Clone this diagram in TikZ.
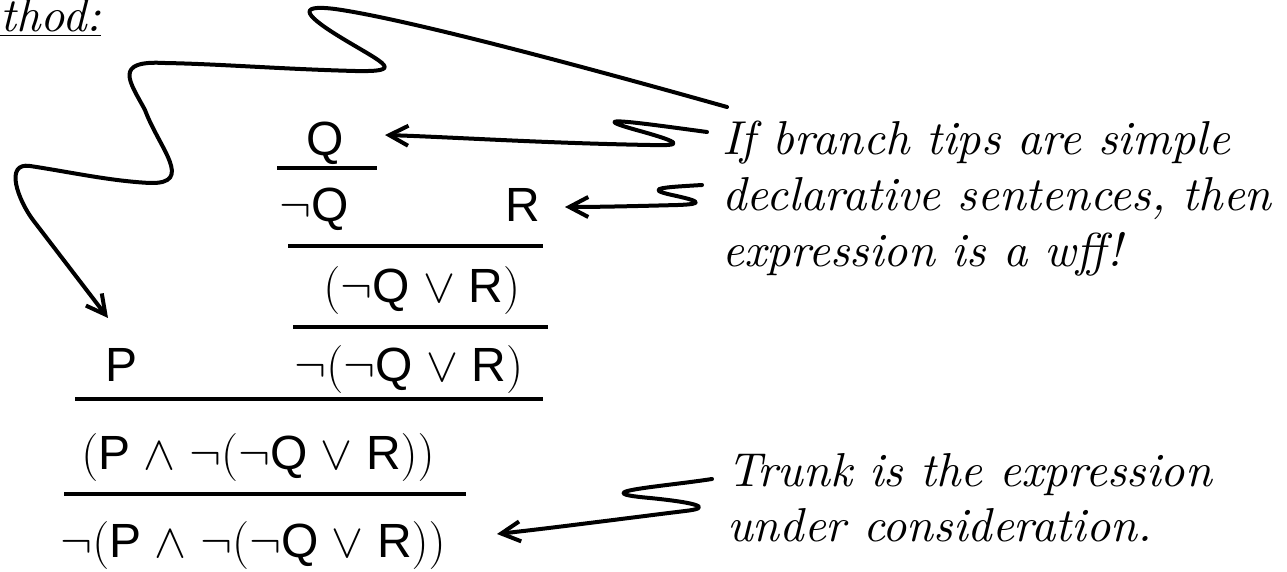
\RequirePackage{fix-cm}
\documentclass[tikz,border=0pt]{standalone}
\usepackage{fontspec}
\setmainfont{lmroman10-regular}[Extension=.otf, ItalicFont=lmroman10-italic]
\setsansfont{Liberation Sans}
\usetikzlibrary{arrows.meta}
\newcommand\lt[1]{\mbox{\fontsize{24}{28}\selectfont\sffamily #1}}
\tikzset{
  formula/.style={inner sep=0pt, anchor=base west, font=\fontsize{24}{28}\selectfont},
  letter/.style={inner sep=0pt, anchor=base, font=\fontsize{24}{28}\selectfont\sffamily},
  rulebar/.style={line width=2pt},
  note/.style={inner sep=0pt, anchor=base west, font=\fontsize{23.8}{28}\selectfont\itshape},
  squig/.style={line width=2pt, line cap=round, line join=round,
    -{Straight Barb[length=9.5pt,width=10pt]}},
}
\begin{document}
\begin{tikzpicture}[x=0.5pt,y=-0.5pt]
\useasboundingbox (0,0) rectangle (1287,572);
% heading fragment
\node[note] (hd) at (0,32) {\underline{thod:}};
% tree
\node[letter] (q) at (325,156) {Q};
\draw[rulebar] (277,168) -- (377,168);
\node[formula] (nq) at (279,222) {$\neg\lt{Q}$};
\node[letter] (r) at (523,222) {R};
\draw[rulebar] (288,246) -- (543,246);
\node[formula] (qr) at (323,303) {$\medmuskip=5mu(\neg\lt{Q}\vee\lt{R})$};
\draw[rulebar] (293,327) -- (548,327);
\node[letter] (p) at (122,382) {P};
\node[formula] (nqr) at (294,382) {$\medmuskip=5mu\neg(\neg\lt{Q}\vee\lt{R})$};
\draw[rulebar] (75,399) -- (543,399);
\node[formula] (pqr) at (81,470) {$\medmuskip=5mu(\lt{P}\wedge\neg(\neg\lt{Q}\vee\lt{R}))$};
\draw[rulebar] (64,494) -- (466,494);
\node[formula] (npqr) at (60,558) {$\medmuskip=5mu\neg(\lt{P}\wedge\neg(\neg\lt{Q}\vee\lt{R}))$};
% notes
\node[note] (t1) at (722,155) {\vtop{\baselineskip=28pt\hbox{If branch tips are simple}\hbox{declarative sentences, then}\hbox{expression is a wff!}}};
\node[note] (t2) at (727,487) {\vtop{\baselineskip=27.5pt\hbox{Trunk is the expression}\hbox{under consideration.}}};
% connector ends
\coordinate (bigS) at (727,107);
\coordinate (bigT) at (108,318);
\coordinate (qS) at (707,132);
\coordinate (qT) at (385,135);
\coordinate (rS) at (702,185);
\coordinate (rT) at (565,207);
\coordinate (tS) at (712,479);
\coordinate (tT) at (497,534);
% connectors
\draw[squig] (bigS) .. controls (560,60) and (400,18) .. (335,9)
  .. controls (295,4) and (305,16) .. (345,40)
  .. controls (385,64) and (405,72) .. (355,71)
  .. controls (280,69) and (220,64) .. (165,63)
  .. controls (112,60) and (130,82) .. (145,110)
  .. controls (159,148) and (195,184) .. (150,183)
  .. controls (110,181) and (70,172) .. (30,166)
  .. controls (4,162) and (18,200) .. (33,220)
  -- (bigT);
\draw[squig] (qS) .. controls (640,123) and (578,114) .. (640,131)
  .. controls (683,143) and (683,146) .. (650,145)
  .. controls (540,143) and (450,137) .. (qT);
\draw[squig] (rS) .. controls (670,187) and (640,188) .. (672,195)
  .. controls (700,201) and (705,204) .. (678,205)
  .. controls (640,206) and (600,207) .. (rT);
\draw[squig] (tS) .. controls (660,487) and (582,492) .. (650,498)
  .. controls (700,503) and (712,508) .. (685,511)
  .. controls (620,519) and (560,527) .. (tT);
\end{tikzpicture}
\end{document}
